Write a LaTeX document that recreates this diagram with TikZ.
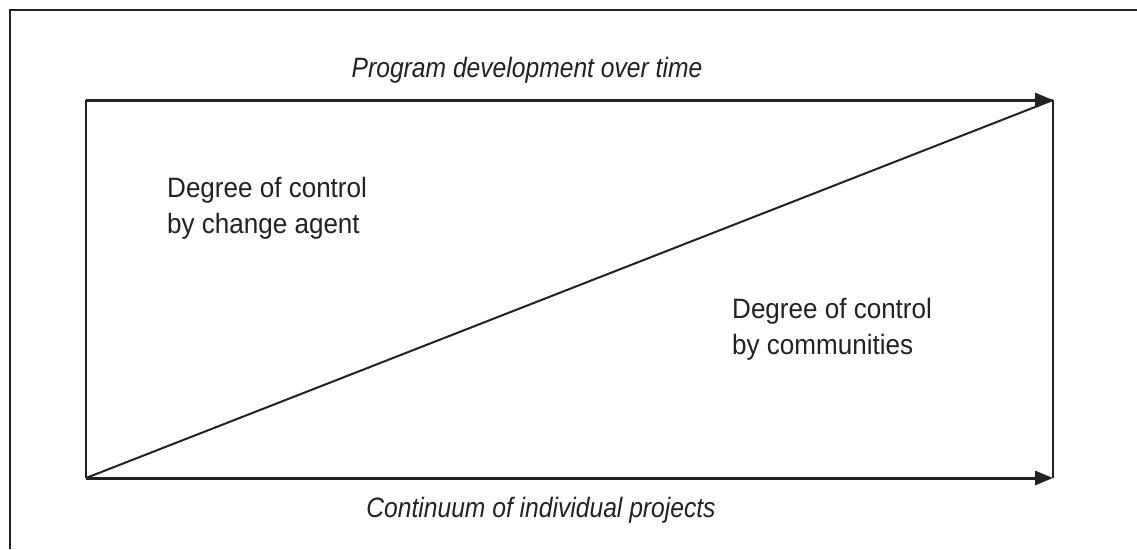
\documentclass[tikz,border=0pt]{standalone}
\usepackage{fontspec}
\setmainfont{Liberation Sans}[UprightFeatures={FakeStretch=0.93},ItalicFeatures={FakeStretch=0.88}]
\usetikzlibrary{arrows.meta}
\definecolor{ink}{HTML}{222222}
\begin{document}
\begin{tikzpicture}[x=1pt,y=-1pt,
  frameline/.style={draw=ink,line width=1.2pt},
  edgeline/.style={draw=ink,line width=2pt},
  axisarrow/.style={draw=ink,line width=3pt,-{Triangle[length=18pt,width=14pt]}},
  lbl/.style={text=ink,inner sep=0pt,font=\fontsize{28}{36}\selectfont},
  axislbl/.style={lbl,font=\fontsize{28}{36}\selectfont\itshape}]
\useasboundingbox (0,0) rectangle (1137,549);
% outer frame (partial)
\coordinate (f1) at (10,549);
\coordinate (f2) at (10,10);
\coordinate (f3) at (1137,10);
\draw[frameline] (f1) -- (f2) -- (f3);
% corners
\coordinate (tl) at (86,100);
\coordinate (tr) at (1053,100);
\coordinate (bl) at (86,478);
\coordinate (br) at (1053,478);
\draw[edgeline] (tl) -- (bl);
\draw[edgeline] (tr) -- (br);
\draw[edgeline] (bl) -- (tr);
\draw[axisarrow] (tl) -- (tr);
\draw[axisarrow] (bl) -- (br);
% labels
\node[axislbl,anchor=base] (top) at (527,77) {Program development over time};
\node[axislbl,anchor=base] (bot) at (541,517) {Continuum of individual projects};
\node[lbl,anchor=base west,align=left] (agent) at (167,233) {Degree of control\\by change agent};
\node[lbl,anchor=base west,align=left] (comm) at (732,354) {Degree of control\\by communities};
\end{tikzpicture}
\end{document}
